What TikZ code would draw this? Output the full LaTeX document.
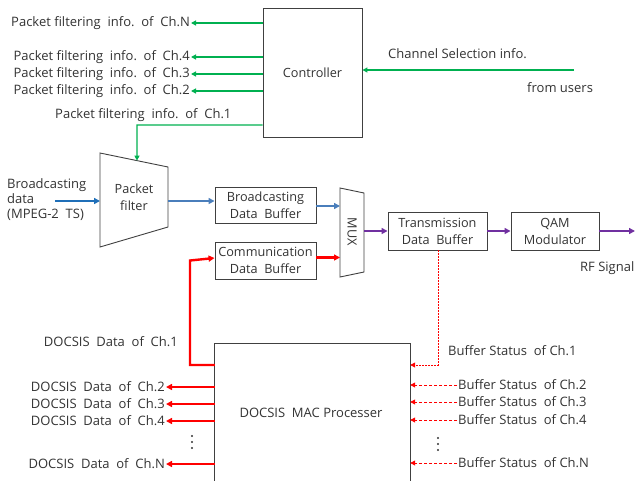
\documentclass[tikz,border=0pt]{standalone}
\usepackage{fontspec}
\setmainfont{Open Sans}
\usetikzlibrary{arrows.meta,calc}
\definecolor{gline}{HTML}{00B050}
\definecolor{bline}{HTML}{4A7EBB}
\definecolor{bdark}{HTML}{1F6FB8}
\definecolor{rline}{HTML}{FF0000}
\definecolor{pline}{HTML}{7030A0}
\definecolor{txt}{HTML}{333333}
\definecolor{bord}{HTML}{404040}
\newcommand{\pfi}[1]{Packet\ filtering\ \ info.\ \ of\ \ Ch.#1}
\begin{document}
\begin{tikzpicture}[x=1pt,y=-1pt,
  every node/.style={text=txt,font=\fontsize{13}{16.5}\selectfont,inner sep=1pt},
  blk/.style={draw=bord,line width=0.9pt,align=center,inner sep=0pt,font=\fontsize{12.7}{17}\selectfont},
  garrow/.style={draw=gline,line width=1.2pt,-{Triangle[length=5pt,width=5pt]}},
  barrow/.style={draw=bline,line width=2pt,-{Triangle[length=6pt,width=6pt]}},
  bdarrow/.style={draw=bdark,line width=2pt,-{Triangle[length=6pt,width=6pt]}},
  rarrow/.style={draw=rline,line width=2.4pt,-{Triangle[length=6pt,width=6pt]}},
  parrow/.style={draw=pline,line width=2.4pt,-{Triangle[length=6pt,width=6pt]}},
  rdash/.style={draw=rline,line width=0.9pt,dash pattern=on 3pt off 2pt,-{Triangle[length=5pt,width=5pt]}},
  rdot/.style={draw=rline,line width=0.9pt,dash pattern=on 1.5pt off 1.5pt,-{Triangle[length=5pt,width=5pt]}},
  lbl/.style={inner sep=1pt}
]
\useasboundingbox (0,0) rectangle (636,480);

% Controller
\node[blk,minimum width=99pt,minimum height=129pt] (ctrl) at (312.5,72.5) {Controller};
\node[lbl,anchor=east] (pN) at (191,23) {\pfi{N}};
\node[lbl,anchor=east] (p4) at (191,57) {\pfi{4}};
\node[lbl,anchor=east] (p3) at (191,74) {\pfi{3}};
\node[lbl,anchor=east] (p2) at (191,91) {\pfi{2}};
\node[lbl,anchor=west] (p1) at (54,115) {\pfi{1}};
\foreach \n in {pN,p4,p3,p2}{\draw[garrow] (ctrl.west |- \n) -- (\n.east);}

\node[lbl,anchor=west] (csi) at (387,54) {Channel Selection info.};
\node[lbl,anchor=west] (fu) at (526,88) {from users};
\coordinate (usr) at (574,70);
\draw[garrow] (usr) -- (ctrl.east |- usr);

% Packet filter
\coordinate (pfTL) at (100,153);
\coordinate (pfTR) at (168,167);
\coordinate (pfBR) at (168,227);
\coordinate (pfBL) at (100,247);
\draw[bord,line width=0.9pt] (pfTL) -- (pfTR) -- (pfBR) -- (pfBL) -- cycle;
\node[align=center,font=\fontsize{12.7}{17}\selectfont] (pf) at (134,197) {Packet\\filter};
\coordinate (pftop) at ($(pfTL)!0.544!(pfTR)$);
\coordinate (c1) at (137,125);
\draw[garrow] (ctrl.west |- c1) -- (c1) -- (pftop);

\node[lbl,anchor=west,align=left,font=\fontsize{13}{15}\selectfont] (bd) at (6,200) {Broadcasting\\data\\(MPEG-2\ \ TS)};
\coordinate (bin) at (55,201);
\coordinate (pfin) at (100,201);
\coordinate (pfout) at (168,201);
\draw[bdarrow] (bin) -- (pfin);

% Buffers
\node[blk,minimum width=101pt,minimum height=36pt] (bdb) at (265.5,205) {Broadcasting\\Data\ \ Buffer};
\node[blk,minimum width=101pt,minimum height=37pt] (cdb) at (265.5,260.5) {Communication\\Data\ \ Buffer};
\draw[barrow] (pfout) -- (bdb.west |- pfout);

% MUX
\coordinate (mTL) at (340,188);
\coordinate (mTR) at (364,193);
\coordinate (mBR) at (364,272);
\coordinate (mBL) at (340,277);
\draw[bord,line width=0.9pt] (mTL) -- (mTR) -- (mBR) -- (mBL) -- cycle;
\node[rotate=-90,font=\fontsize{12.7}{15}\selectfont] (mux) at (352,232) {MUX};
\coordinate (muxout) at (364,231);
\draw[barrow] ($(bdb.east)+(0,1)$) -- ($(bdb.east -| mTL)+(0,1)$);
\draw[rarrow] ($(cdb.east)+(0,-3)$) -- ($(cdb.east -| mTL)+(0,-3)$);

% Transmission, QAM
\node[blk,minimum width=99pt,minimum height=38pt] (tdb) at (437.5,231) {Transmission\\Data\ \ Buffer};
\node[blk,minimum width=88pt,minimum height=38pt] (qam) at (555,231) {QAM\\Modulator};
\coordinate (rfend) at (635,231);
\draw[parrow] (muxout) -- (tdb.west);
\draw[parrow] (tdb.east) -- (qam.west);
\draw[parrow] (qam.east) -- (rfend);
\node[lbl,anchor=west] (rf) at (579,268) {RF Signal};

% DOCSIS MAC
\node[minimum width=195pt,minimum height=140pt,inner sep=0pt] (dm) at (312.5,414) {};
\node (dmt) at (311,413) {DOCSIS\ \ MAC\ Processer};
\draw[bord,line width=0.9pt] (dm.south west) -- (dm.north west) -- (dm.north east) -- (dm.south east);

\coordinate (r1) at (190,365);
\draw[rarrow] (dm.west |- r1) -- (r1) -- (r1 |- cdb.west) -- ($(cdb.west)+(0,-2.5)$);
\node[lbl,anchor=east] (d1) at (179,342) {DOCSIS\ \ Data\ \ of\ \ Ch.1};
\node[lbl,anchor=east] (d2) at (166,387) {DOCSIS\ \ Data\ \ of\ \ Ch.2};
\node[lbl,anchor=east] (d3) at (166,404) {DOCSIS\ \ Data\ \ of\ \ Ch.3};
\node[lbl,anchor=east] (d4) at (166,421) {DOCSIS\ \ Data\ \ of\ \ Ch.4};
\node[lbl,anchor=east] (dN) at (166,464) {DOCSIS\ \ Data\ \ of\ \ Ch.N};
\foreach \n in {d2,d3,d4,dN}{\draw[rarrow] (dm.west |- \n) -- (\n.east);}

\coordinate (s1c) at (438,365);
\draw[rdot] (tdb.south -| s1c) -- (s1c) -- (dm.east |- s1c);
\node[lbl,anchor=west] (s1) at (447,351) {Buffer\ Status\ \ of\ Ch.1};
\node[lbl,anchor=west] (s2) at (457,385) {Buffer\ Status\ \ of\ Ch.2};
\node[lbl,anchor=west] (s3) at (457,402) {Buffer\ Status\ \ of\ Ch.3};
\node[lbl,anchor=west] (s4) at (457,420) {Buffer\ Status\ \ of\ Ch.4};
\node[lbl,anchor=west] (sN) at (457,463) {Buffer\ Status\ \ of\ Ch.N};
\foreach \n in {s2,s3,s4,sN}{\draw[rdash] (\n.west) -- (dm.east |- \n);}

% vertical dots
\foreach \yy in {436,442,448}{
  \fill[black!80] (192,\yy) circle (1.2pt);
  \fill[black!80] (438,\yy+2) circle (1.2pt);
}
\end{tikzpicture}
\end{document}
